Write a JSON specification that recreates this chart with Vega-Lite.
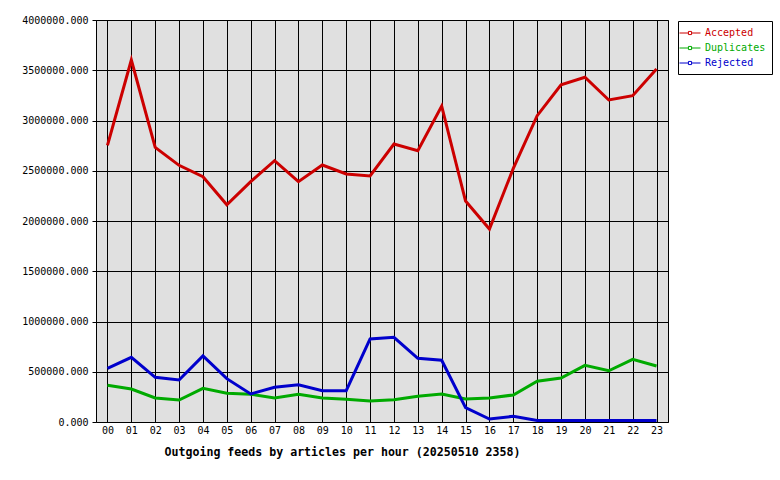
{
  "$schema": "https://vega.github.io/schema/vega-lite/v6.json",
  "autosize": "none",
  "width": 572,
  "height": 402,
  "padding": {"left": 96, "top": 20, "right": 112, "bottom": 58},
  "background": "white",
  "config": {
    "view": {"stroke": "black", "strokeWidth": 1, "fill": "#e0e0e0"},
    "font": "DejaVu Sans Mono"
  },
  "data": {
    "values": [
      {"hour": "00", "Accepted": 2753000, "Duplicates": 365000, "Rejected": 534000},
      {"hour": "01", "Accepted": 3602000, "Duplicates": 328000, "Rejected": 644000},
      {"hour": "02", "Accepted": 2733000, "Duplicates": 239000, "Rejected": 445000},
      {"hour": "03", "Accepted": 2554000, "Duplicates": 219000, "Rejected": 418000},
      {"hour": "04", "Accepted": 2441000, "Duplicates": 335000, "Rejected": 657000},
      {"hour": "05", "Accepted": 2162000, "Duplicates": 286000, "Rejected": 431000},
      {"hour": "06", "Accepted": 2391000, "Duplicates": 276000, "Rejected": 279000},
      {"hour": "07", "Accepted": 2600000, "Duplicates": 239000, "Rejected": 345000},
      {"hour": "08", "Accepted": 2391000, "Duplicates": 276000, "Rejected": 371000},
      {"hour": "09", "Accepted": 2557000, "Duplicates": 239000, "Rejected": 311000},
      {"hour": "10", "Accepted": 2468000, "Duplicates": 226000, "Rejected": 311000},
      {"hour": "11", "Accepted": 2448000, "Duplicates": 209000, "Rejected": 826000},
      {"hour": "12", "Accepted": 2766000, "Duplicates": 222000, "Rejected": 843000},
      {"hour": "13", "Accepted": 2699000, "Duplicates": 256000, "Rejected": 634000},
      {"hour": "14", "Accepted": 3144000, "Duplicates": 279000, "Rejected": 614000},
      {"hour": "15", "Accepted": 2199000, "Duplicates": 229000, "Rejected": 142000},
      {"hour": "16", "Accepted": 1920000, "Duplicates": 239000, "Rejected": 30000},
      {"hour": "17", "Accepted": 2524000, "Duplicates": 269000, "Rejected": 57000},
      {"hour": "18", "Accepted": 3048000, "Duplicates": 405000, "Rejected": 15000},
      {"hour": "19", "Accepted": 3356000, "Duplicates": 438000, "Rejected": 15000},
      {"hour": "20", "Accepted": 3430000, "Duplicates": 564000, "Rejected": 15000},
      {"hour": "21", "Accepted": 3204000, "Duplicates": 510000, "Rejected": 15000},
      {"hour": "22", "Accepted": 3247000, "Duplicates": 624000, "Rejected": 15000},
      {"hour": "23", "Accepted": 3512000, "Duplicates": 557000, "Rejected": 15000}
    ]
  },
  "transform": [
    {"fold": ["Accepted", "Duplicates", "Rejected"], "as": ["series", "value"]}
  ],
  "mark": {"type": "line", "strokeWidth": 3, "strokeJoin": "miter", "strokeCap": "butt"},
  "encoding": {
    "x": {
      "field": "hour",
      "type": "ordinal",
      "scale": {"type": "point", "padding": 0.48},
      "axis": {
        "title": "Outgoing feeds by articles per hour (20250510 2358)",
        "titleFont": "DejaVu Sans Mono",
        "titleFontSize": 11.6,
        "titleFontWeight": "bold",
        "titleColor": "black",
        "titleX": 246,
        "titleY": 30,
        "titleAlign": "center",
        "titleBaseline": "middle",
        "labelAngle": 0,
        "labelFont": "DejaVu Sans Mono",
        "labelFontSize": 10,
        "labelColor": "black",
        "labelPadding": 8,
        "labelBaseline": "middle",
        "ticks": false,
        "domain": false,
        "grid": true,
        "gridColor": "black",
        "gridOpacity": 1,
        "gridWidth": 1
      }
    },
    "y": {
      "field": "value",
      "type": "quantitative",
      "scale": {"domain": [0, 4000000], "nice": false, "zero": true},
      "axis": {
        "title": null,
        "values": [0, 500000, 1000000, 1500000, 2000000, 2500000, 3000000, 3500000, 4000000],
        "format": ".3f",
        "labelFont": "DejaVu Sans Mono",
        "labelFontSize": 10,
        "labelColor": "black",
        "labelPadding": 4,
        "tickSize": 4,
        "tickColor": "black",
        "tickOpacity": 1,
        "domain": false,
        "grid": true,
        "gridColor": "black",
        "gridOpacity": 1,
        "gridWidth": 1
      }
    },
    "color": {
      "field": "series",
      "type": "nominal",
      "scale": {"domain": ["Accepted", "Duplicates", "Rejected"], "range": ["#cc0000", "#00aa00", "#0000cc"]},
      "legend": {
        "title": null,
        "orient": "none",
        "legendX": 582,
        "legendY": 1,
        "symbolType": "M-2,0H-0.3M0.3,0H2M-0.3,-0.3H0.3V0.3H-0.3Z",
        "symbolSize": 110,
        "symbolStrokeWidth": 1,
        "labelFont": "DejaVu Sans Mono",
        "labelFontSize": 10,
        "labelOffset": 9,
        "strokeColor": "black",
        "fillColor": "white",
        "padding": 6,
        "rowPadding": 4,
        "encode": {
          "labels": {"update": {"fill": {"scale": "color", "field": "value"}}}
        }
      }
    }
  }
}
